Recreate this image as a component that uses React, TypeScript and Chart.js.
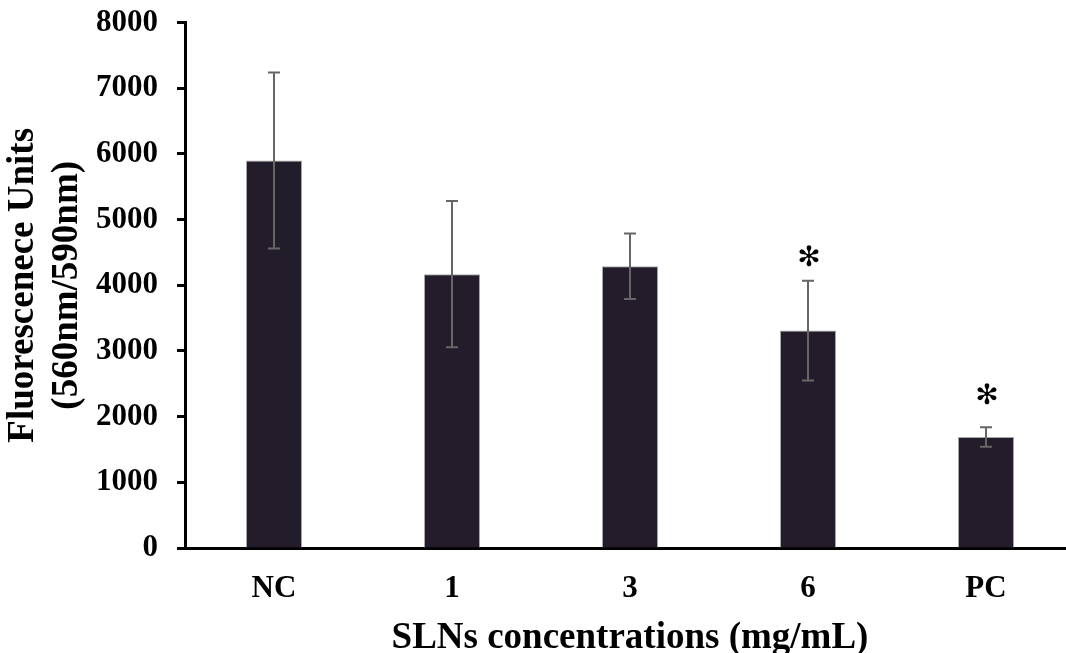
import React, { useEffect, useRef } from "react";
import { Chart, registerables } from "chart.js";

Chart.register(...registerables);

const categories = ["NC", "1", "3", "6", "PC"];
const means = [5900, 4170, 4290, 3310, 1690];
const errors = [1340, 1115, 500, 760, 150];
const markerValues = [null, null, null, 4400, 2300];
const markerText = "✻";
const yTicks = [0, 1000, 2000, 3000, 4000, 5000, 6000, 7000, 8000];

const SERIF = "'Liberation Serif', 'Times New Roman', serif";

const errorBarPlugin = {
  id: "errorBars",
  afterDatasetsDraw(chart: any) {
    const { ctx } = chart;
    const meta = chart.getDatasetMeta(0);
    const ys = chart.scales.y;
    ctx.save();
    ctx.strokeStyle = "#666666";
    ctx.lineWidth = 2;
    meta.data.forEach((bar: any, i: number) => {
      const x = bar.x;
      const top = ys.getPixelForValue(means[i] + errors[i]);
      const bot = ys.getPixelForValue(means[i] - errors[i]);
      ctx.beginPath();
      ctx.moveTo(x, top);
      ctx.lineTo(x, bot);
      ctx.moveTo(x - 6, top);
      ctx.lineTo(x + 6, top);
      ctx.moveTo(x - 6, bot);
      ctx.lineTo(x + 6, bot);
      ctx.stroke();
      const mv = markerValues[i];
      if (mv != null) {
        ctx.fillStyle = "#000";
        ctx.font = "28px 'DejaVu Sans'";
        ctx.textAlign = "center";
        ctx.textBaseline = "middle";
        ctx.fillText(markerText, x + 1, ys.getPixelForValue(mv));
      }
    });
    ctx.restore();
  },
};

export default function App() {
  const ref = useRef<HTMLCanvasElement>(null);
  useEffect(() => {
    document.body.style.margin = "0";
    document.body.style.overflow = "hidden";
    const chart = new Chart(ref.current!, {
      type: "bar",
      data: {
        labels: categories,
        datasets: [
          {
            data: means,
            backgroundColor: "#221c2b",
            borderColor: "#a8a8a8",
            borderWidth: 1,
            categoryPercentage: 1,
            barPercentage: 0.315,
          },
        ],
      },
      options: {
        animation: false,
        responsive: false,
        layout: { padding: { top: 7, right: 25, bottom: 0, left: 0 } },
        plugins: { legend: { display: false }, tooltip: { enabled: false } },
        scales: {
          x: {
            grid: { display: false, drawTicks: false },
            border: { display: true, color: "#000", width: 3 },
            ticks: {
              color: "#000",
              padding: 22,
              font: { family: SERIF, size: 31, weight: "bold" },
            },
            title: {
              display: true,
              text: "SLNs concentrations (mg/mL)",
              color: "#000",
              font: { family: SERIF, size: 37, weight: "bold", lineHeight: 0.8 },
              padding: { top: 0, bottom: 0 },
            },
            afterFit(scale: any) {
              scale.height = 105;
            },
          },
          y: {
            min: 0,
            max: 8000,
            afterBuildTicks(scale: any) {
              scale.ticks = yTicks.map((v) => ({ value: v }));
            },
            grid: {
              drawOnChartArea: false,
              drawTicks: true,
              tickLength: 8,
              tickWidth: 3,
              tickColor: "#000",
            },
            border: { display: true, color: "#000", width: 3 },
            ticks: {
              color: "#000",
              padding: 19,
              font: { family: SERIF, size: 31, weight: "bold" },
              callback: (v: any) => String(v),
            },
            title: {
              display: true,
              text: ["Fluorescenece Units", "(560nm/590nm)"],
              color: "#000",
              font: { family: SERIF, size: 37, weight: "bold", lineHeight: 1.2 },
              padding: { top: 1, bottom: 0 },
            },
            afterFit(scale: any) {
              scale.width = 185;
            },
          },
        },
      },
      plugins: [errorBarPlugin],
    });
    return () => chart.destroy();
  }, []);
  return (
    <div style={{ width: 1066, height: 653, overflow: "hidden", background: "#fff" }}>
      <div style={{ marginTop: -15 }}>
        <canvas ref={ref} width={1100} height={668} style={{ display: "block" }} />
      </div>
    </div>
  );
}
